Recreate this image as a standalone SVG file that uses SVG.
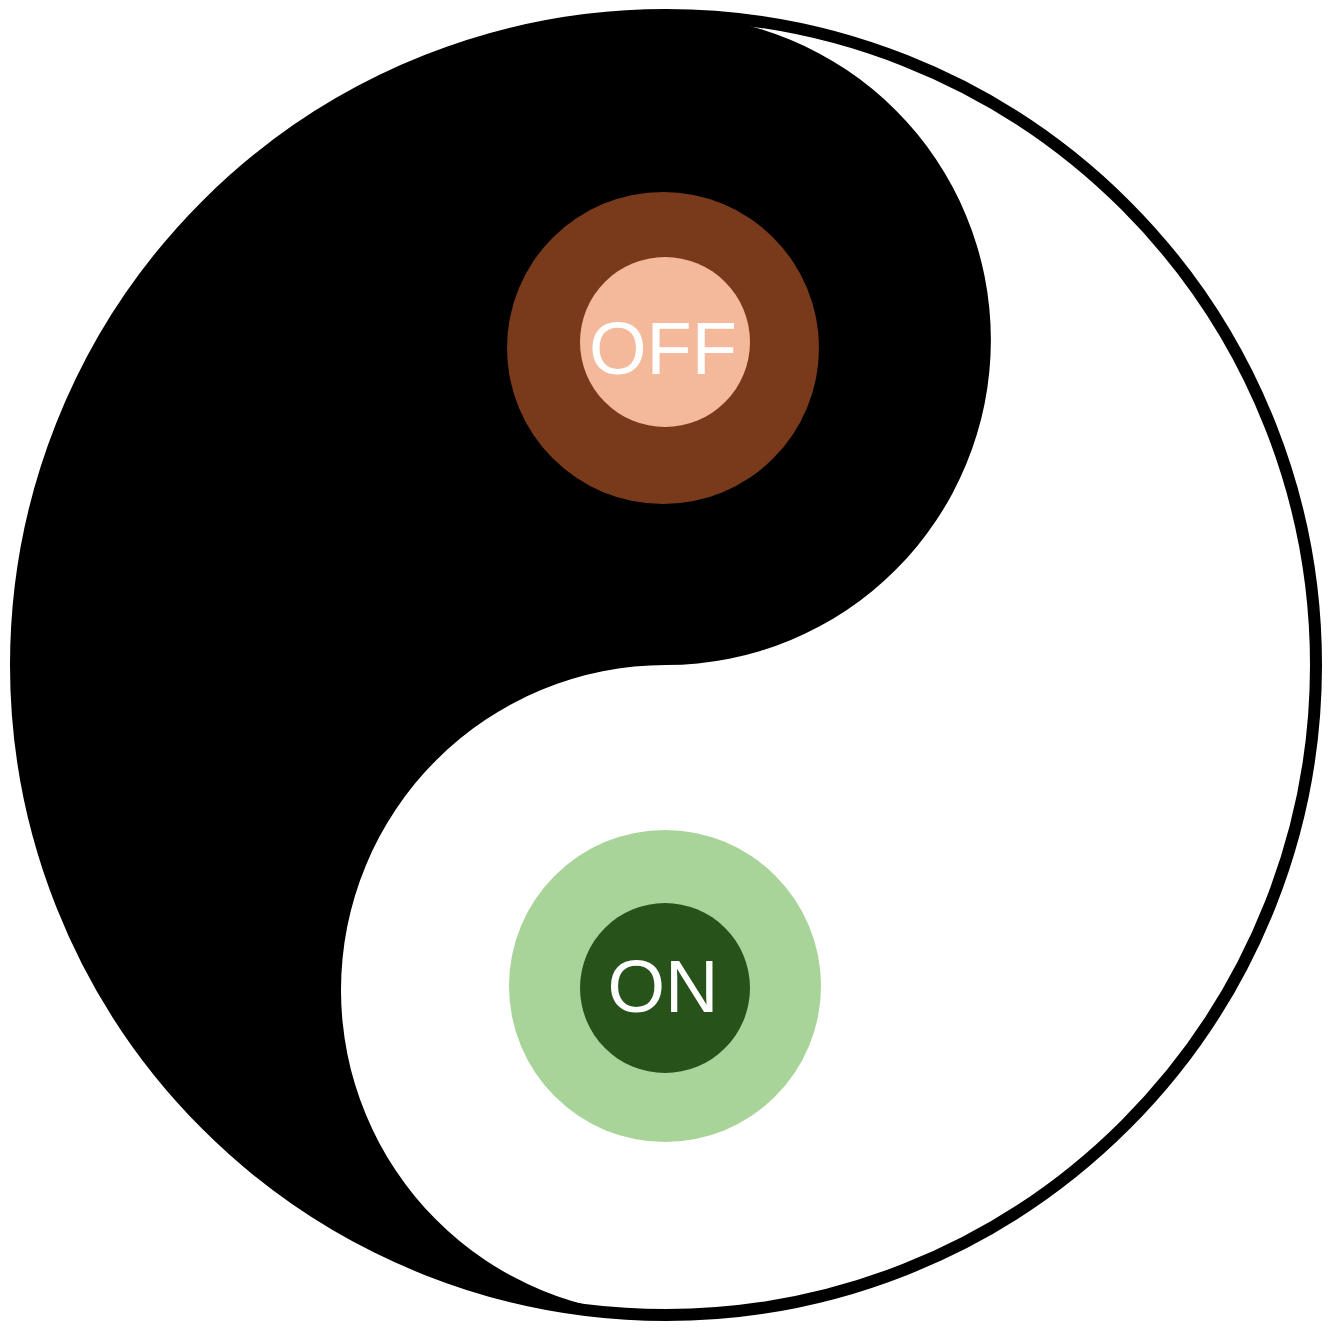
<svg xmlns="http://www.w3.org/2000/svg" width="1333" height="1329" viewBox="0 0 1333 1329">
<style>.t{font-family:"Liberation Sans",Arial,sans-serif;font-size:74px;fill:#fff;text-anchor:middle}</style>
<rect width="1333" height="1329" fill="#fff"/>
<circle cx="666" cy="665" r="650" fill="#fff"/>
<path d="M666 15 A650 650 0 0 0 666 1315 A322 322 0 0 1 666 665 A325 325 0 0 0 666 15 Z" fill="#000"/>
<circle cx="666" cy="665" r="650" fill="none" stroke="#000" stroke-width="12"/>
<g id="off"><circle cx="663" cy="348" r="156" fill="#783A1B"/><circle cx="665" cy="342" r="85" fill="#F4B99A"/><text class="t" x="663" y="374">OFF</text></g>
<g id="on"><circle cx="665" cy="986" r="156" fill="#A8D49A"/><circle cx="665" cy="988" r="85" fill="#27521A"/><text class="t" x="663" y="1012">ON</text></g>
</svg>
